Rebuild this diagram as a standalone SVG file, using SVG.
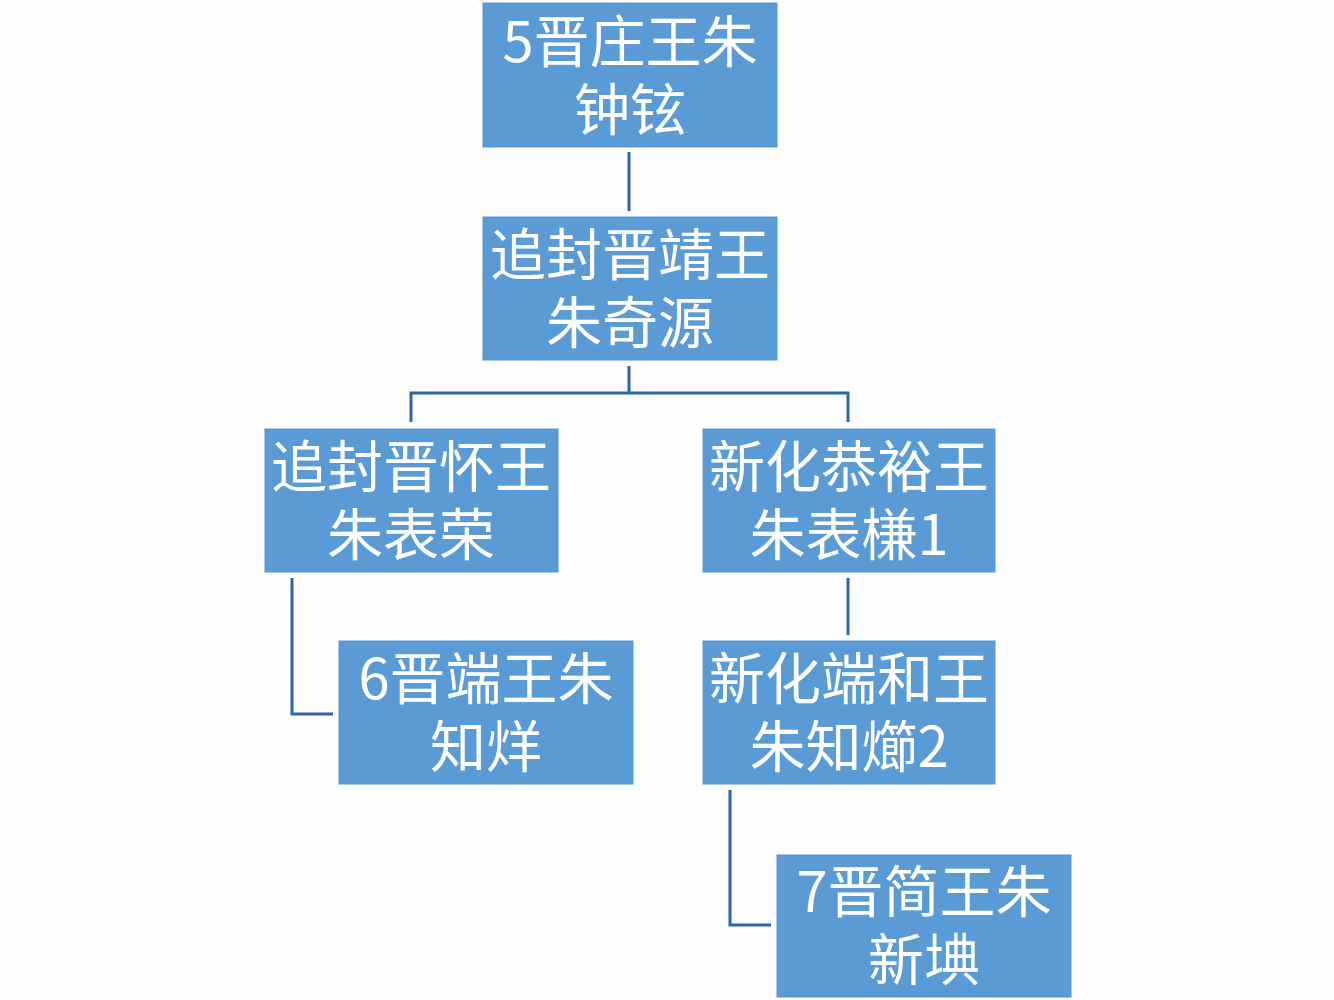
<svg xmlns="http://www.w3.org/2000/svg" width="1334" height="1000" viewBox="0 0 1334 1000">
<style>
.box{fill:#5b9bd5;stroke:#5596d2;stroke-width:1}
.t{font-family:"Noto Sans CJK SC","Noto Sans",sans-serif;font-size:56px;fill:#fff;text-anchor:middle;dominant-baseline:central}
.c{fill:none;stroke:#2f65ad;stroke-width:3}
</style>
<rect width="1334" height="1000" fill="#fdfdfd"/>
<g id="connectors">
<path class="c" d="M629,152 V211"/>
<path class="c" d="M629,366 V393 M411,422 V393 H848 V422"/>
<path class="c" d="M292,578 V714 H333"/>
<path class="c" d="M848,578 V635"/>
<path class="c" d="M730,790 V925 H771"/>
</g>
<g id="n1"><rect class="box" x="483" y="3" width="294" height="144"/><text class="t" x="630" y="37">5晋庄王朱<tspan x="630" dy="68">钟铉</tspan></text></g>
<g id="n2"><rect class="box" x="483" y="217" width="294" height="143"/><text class="t" x="630" y="250">追封晋靖王<tspan x="630" dy="68">朱奇源</tspan></text></g>
<g id="n3"><rect class="box" x="265" y="429" width="293" height="143"/><text class="t" x="411" y="462">追封晋怀王<tspan x="411" dy="68">朱表荣</tspan></text></g>
<g id="n4"><rect class="box" x="703" y="429" width="292" height="143"/><text class="t" x="849" y="462">新化恭裕王<tspan x="849" dy="68">朱表槏1</tspan></text></g>
<g id="n5"><rect class="box" x="339" y="641" width="294" height="143"/><text class="t" x="486" y="674">6晋端王朱<tspan x="486" dy="68">知烊</tspan></text></g>
<g id="n6"><rect class="box" x="703" y="641" width="292" height="143"/><text class="t" x="849" y="674">新化端和王<tspan x="849" dy="68">朱知&#x3E05;2</tspan></text></g>
<g id="n7"><rect class="box" x="777" y="855" width="294" height="142"/><text class="t" x="924" y="887">7晋简王朱<tspan x="924" dy="68">新&#x3649;</tspan></text></g>
</svg>
